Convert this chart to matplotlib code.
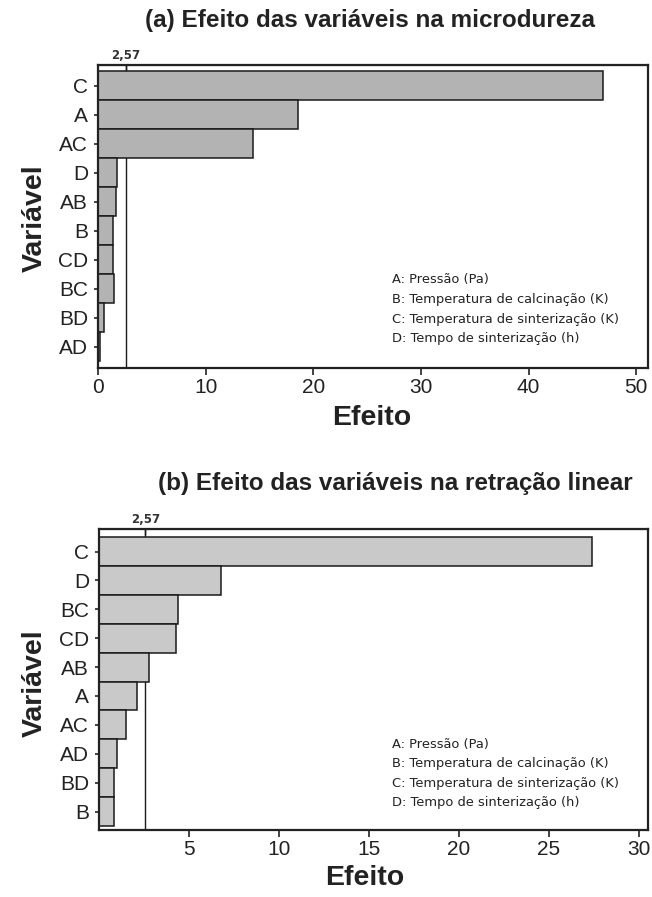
import matplotlib.pyplot as plt

# Pareto de efeitos padronizados, alpha = 0,05 (t = 2,57)
t_crit = 2.57

vars_a = ['C', 'A', 'AC', 'D', 'AB', 'B', 'CD', 'BC', 'BD', 'AD']
efeito_a = [46.9, 18.6, 14.4, 1.8, 1.7, 1.4, 1.4, 1.45, 0.55, 0.2]

vars_b = ['C', 'D', 'BC', 'CD', 'AB', 'A', 'AC', 'AD', 'BD', 'B']
efeito_b = [27.4, 6.8, 4.4, 4.3, 2.8, 2.1, 1.5, 1.0, 0.85, 0.85]

legenda = ['A: Pressão (Pa)',
           'B: Temperatura de calcinação (K)',
           'C: Temperatura de sinterização (K)',
           'D: Tempo de sinterização (h)']

plt.rcParams['font.family'] = ['Liberation Sans', 'DejaVu Sans']

fig = plt.figure(figsize=(6.52, 8.97), dpi=100)
W, H = 652, 897


def painel(rect, nomes, valores, cor, xlim, xticks, ylim, leg_y):
    l, t, r, b = rect
    ax = fig.add_axes([l / W, 1 - b / H, (r - l) / W, (b - t) / H])
    pos = list(range(len(nomes)))
    # linha do t critico fica atras das barras
    ax.axvline(t_crit, color='#1a1a1a', linewidth=1.0, zorder=1)
    ax.barh(pos, valores, height=1.0, color=cor, edgecolor='#1a1a1a',
            linewidth=1.1, zorder=2)
    ax.set_xlim(*xlim)
    ax.set_ylim(*ylim)
    ax.set_yticks(pos)
    ax.set_yticklabels(nomes, fontsize=15, color='#222222')
    ax.set_xticks(xticks)
    ax.tick_params(axis='x', labelsize=15, length=5, width=1.2, pad=2, colors='#222222')
    ax.tick_params(axis='y', length=3, width=1.2, pad=4, colors='#222222')
    for s in ax.spines.values():
        s.set_linewidth(1.6)
        s.set_color('#222222')
    sec = ax.secondary_xaxis('top')
    sec.set_xticks([t_crit])
    sec.set_xticklabels(['2,57'], fontsize=8.5, fontweight='bold',
                        family='DejaVu Sans', color='#333333')
    sec.tick_params(length=4, width=1.0, direction='in', pad=2)
    for i, txt in enumerate(legenda):
        fig.text(392 / W, 1 - (leg_y + i * 19.6) / H, txt, fontsize=9.4,
                 family='DejaVu Sans', va='center', ha='left', color='#222222')
    return ax


painel((98, 65, 648, 368), vars_a, efeito_a, '#b3b3b3',
       (0, 51.1), [0, 10, 20, 30, 40, 50], (9.74, -0.71), 280)
painel((99, 529, 648, 830), vars_b, efeito_b, '#c9c9c9',
       (0, 30.5), [5, 10, 15, 20, 25, 30], (9.64, -0.78), 744)

fig.text(370 / W, 1 - 20 / H, '(a) Efeito das variáveis na microdureza',
         fontsize=17.5, fontweight='bold', ha='center', va='center', color='#222222')
fig.text(395 / W, 1 - 483 / H, '(b) Efeito das variáveis na retração linear',
         fontsize=17.5, fontweight='bold', ha='center', va='center', color='#222222')

for y in (218, 683):
    fig.text(35 / W, 1 - y / H, 'Variável', rotation=90, fontsize=20.5,
             fontweight='bold', ha='center', va='center', color='#222222')
fig.text(372 / W, 1 - 418 / H, 'Efeito', fontsize=20.5, fontweight='bold',
         ha='center', va='center', color='#222222')
fig.text(365 / W, 1 - 878 / H, 'Efeito', fontsize=20.5, fontweight='bold',
         ha='center', va='center', color='#222222')

fig.savefig('out.png', dpi=100)
